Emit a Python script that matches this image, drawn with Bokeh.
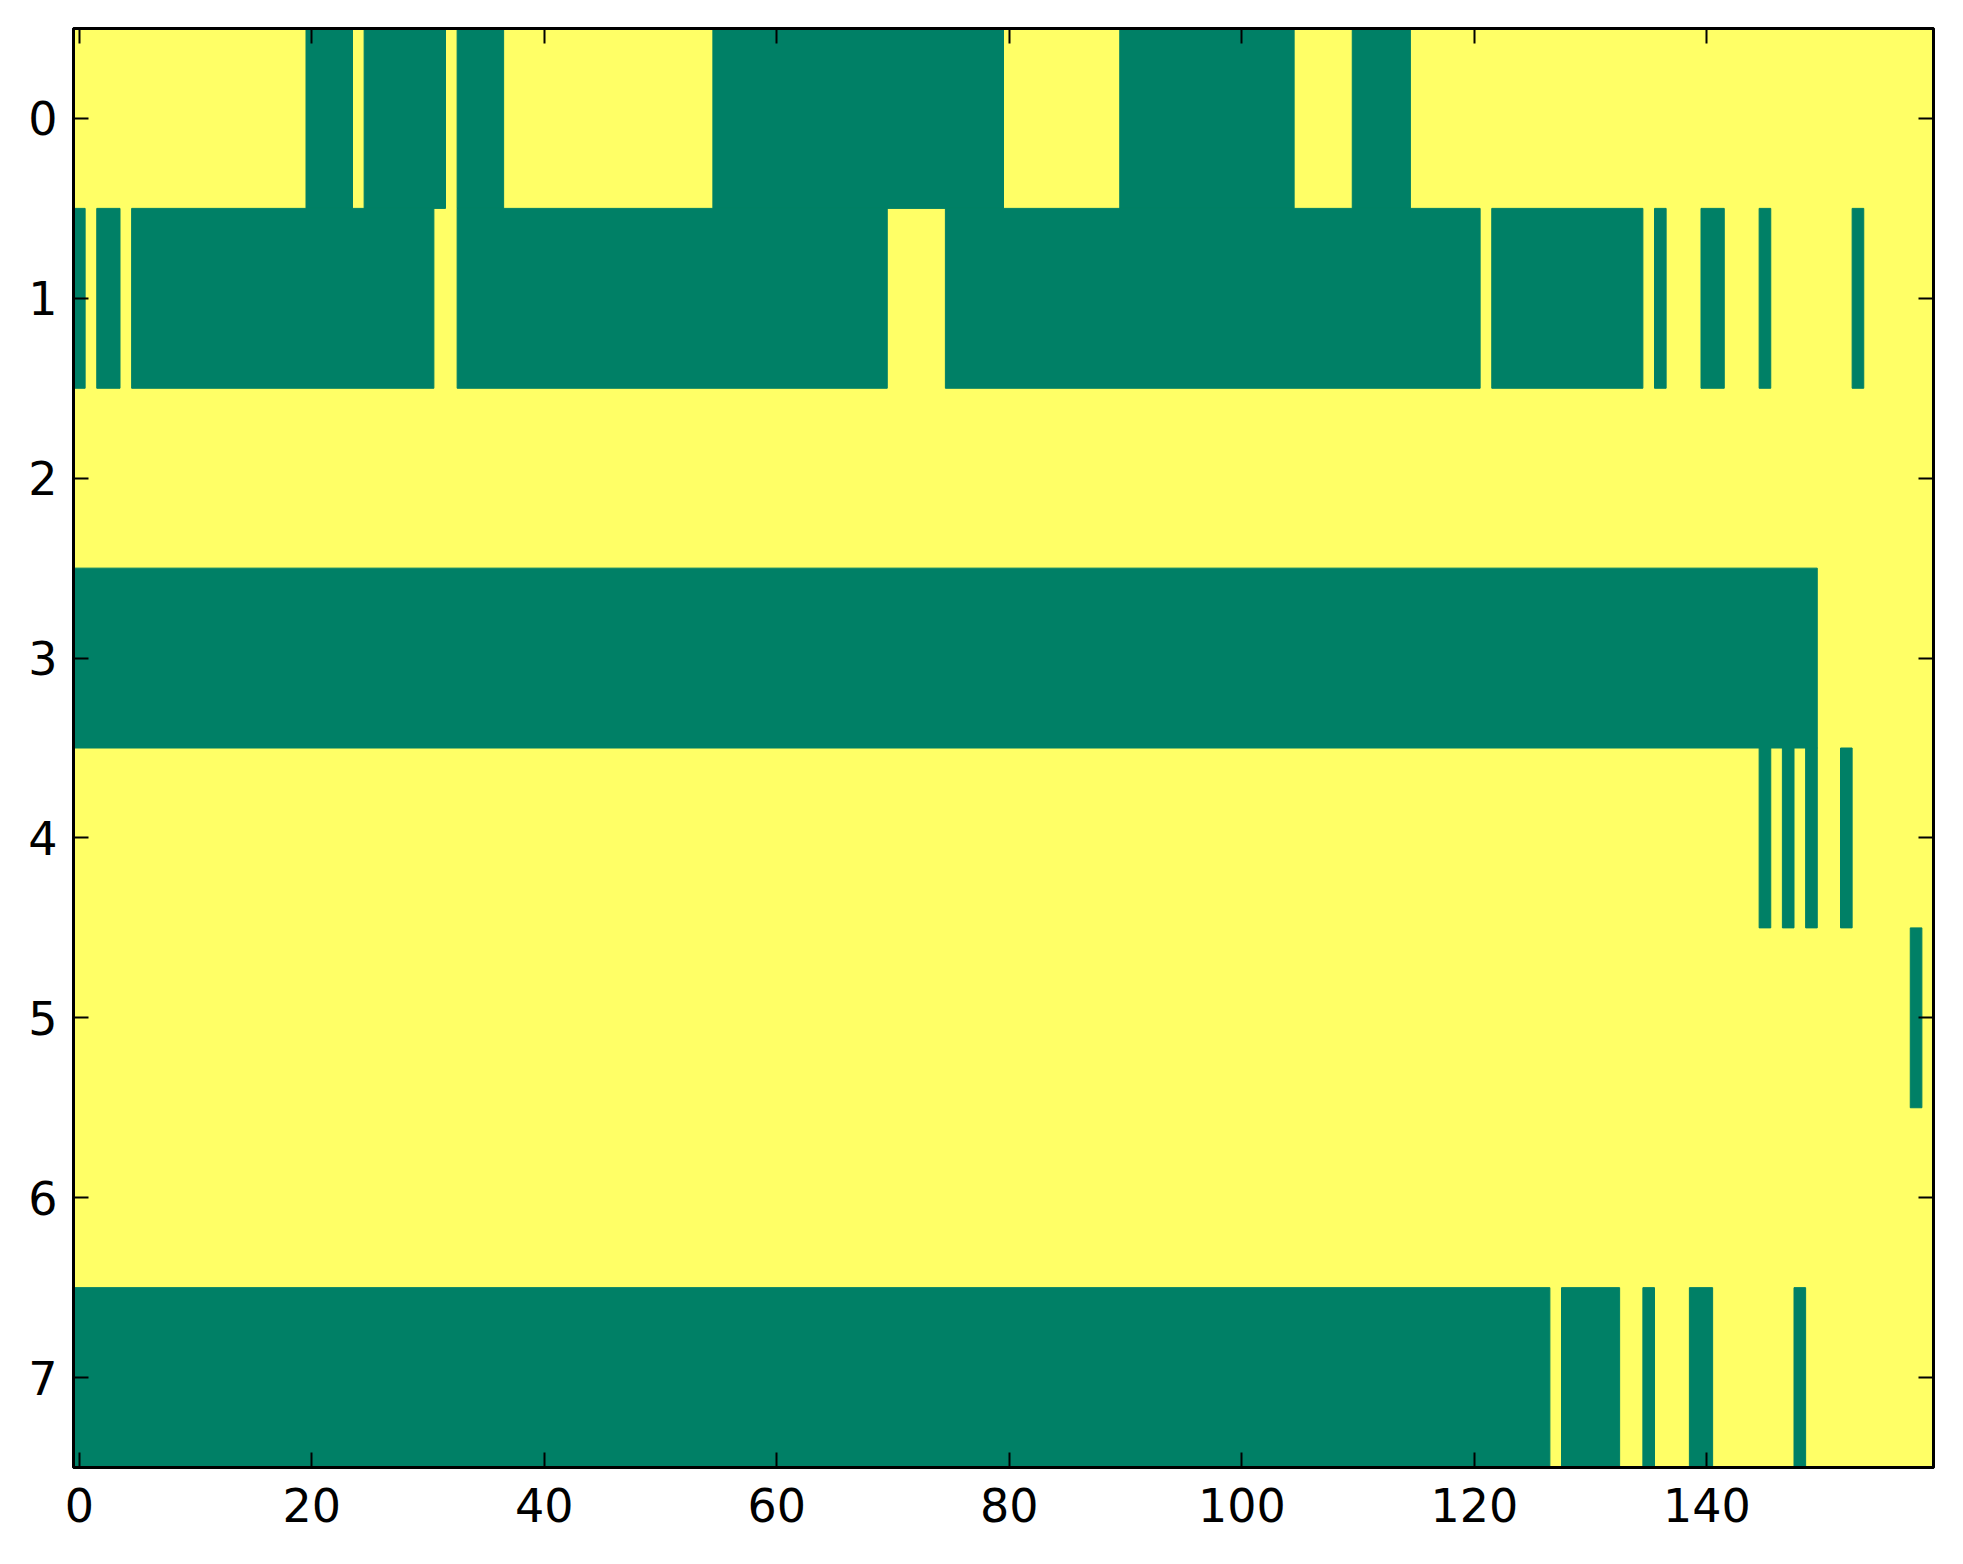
from bokeh.plotting import figure
from bokeh.models import Range1d, LinearAxis, FixedTicker, ColumnDataSource
from bokeh.embed import file_html
from bokeh.resources import INLINE

# ---- data: binary matrix 8 rows x 160 columns, given as runs of "green" cells (inclusive) ----
n_rows = 8
n_cols = 160
row0 = [(20, 23), (25, 31), (33, 36), (55, 79), (90, 104), (110, 114)]
row1 = [(0, 0), (2, 3), (5, 30), (33, 69), (75, 120), (122, 134), (136, 136), (140, 141), (145, 145), (153, 153)]
row2 = []
row3 = [(0, 149)]
row4 = [(145, 145), (147, 147), (149, 149), (152, 152)]
row5 = [(158, 158)]
row6 = []
row7 = [(0, 126), (128, 132), (135, 135), (139, 140), (148, 148)]
rows = [row0, row1, row2, row3, row4, row5, row6, row7]

x_ticks = [0, 20, 40, 60, 80, 100, 120, 140]
y_ticks = [0, 1, 2, 3, 4, 5, 6, 7]

GREEN = "#008066"
YELLOW = "#ffff66"

# build the matrix
matrix = [[0] * n_cols for _ in range(n_rows)]
for r, runs in enumerate(rows):
    for a, b in runs:
        for c in range(a, b + 1):
            matrix[r][c] = 1

# run-length from matrix -> quads
left, right, top, bottom = [], [], [], []
for r in range(n_rows):
    c = 0
    while c < n_cols:
        if matrix[r][c] == 1:
            s = c
            while c < n_cols and matrix[r][c] == 1:
                c += 1
            left.append(s - 0.5)
            right.append(c - 0.5)
            top.append(r - 0.5)
            bottom.append(r + 0.5)
        else:
            c += 1
src = ColumnDataSource(dict(left=left, right=right, top=top, bottom=bottom))

W, H = 1945, 1545
p = figure(width=W, height=H, output_backend="svg", toolbar_location=None,
           x_range=Range1d(-0.5, n_cols - 0.5), y_range=Range1d(n_rows - 0.5, -0.5),
           min_border_left=73, min_border_right=12, min_border_top=28, min_border_bottom=78)
p.background_fill_color = YELLOW
p.border_fill_color = "white"
p.grid.visible = False
p.outline_line_color = "black"
p.outline_line_width = 3

p.quad(left="left", right="right", top="top", bottom="bottom", source=src,
       fill_color=GREEN, line_color=GREEN, line_width=1)

FONT = "DejaVu Sans"
FS = "46px"


def style(ax, labels=True, standoff=16):
    ax.axis_line_color = "black"
    ax.axis_line_width = 3
    ax.major_tick_in = 15
    ax.major_tick_out = 0
    ax.major_tick_line_width = 2
    ax.major_tick_line_color = "black"
    ax.minor_tick_line_color = None
    ax.major_label_text_font = FONT
    ax.major_label_standoff = standoff
    ax.major_label_text_font_size = FS
    ax.major_label_text_color = "black" if labels else None


p.xaxis.ticker = FixedTicker(ticks=x_ticks)
p.yaxis.ticker = FixedTicker(ticks=y_ticks)
style(p.xaxis[0], True, 20)
style(p.yaxis[0], True, 16)

top_ax = LinearAxis(ticker=FixedTicker(ticks=x_ticks))
style(top_ax, False)
p.add_layout(top_ax, "above")
right_ax = LinearAxis(ticker=FixedTicker(ticks=y_ticks))
style(right_ax, False)
p.add_layout(right_ax, "right")

open("out.html", "w").write(file_html(p, INLINE))
